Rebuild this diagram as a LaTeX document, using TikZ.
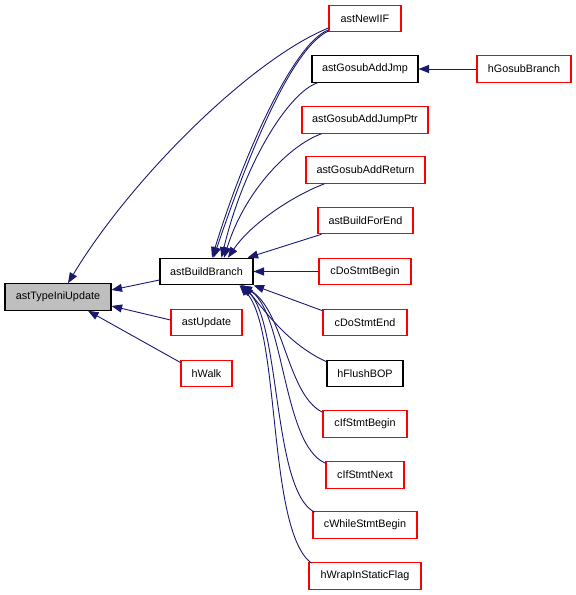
\documentclass[tikz,border=0pt]{standalone}
\usepackage{fontspec}
\setmainfont{Liberation Sans}
\usetikzlibrary{arrows.meta}
\definecolor{edgeblue}{HTML}{191970}
\tikzset{
  fn/.style={draw, rectangle, line width=1.1bp, inner sep=0pt, minimum height=26.5bp,
    font=\fontsize{10.8bp}{12bp}\selectfont},
  fnred/.style={fn, draw=red},
  fnblack/.style={fn, draw=black},
  fncur/.style={fn, draw=black, fill=black!25},
  call/.style={edgeblue, line width=0.9bp, <-, >={Triangle[length=10.5bp,width=8bp]}}
}

\begin{document}
\begin{tikzpicture}[x=1bp, y=-1bp]
\useasboundingbox (0,0) rectangle (576,595);
\node[fncur, minimum width=106bp] (tiu) at (58,297) {astTypeIniUpdate};
\node[fnblack, minimum width=93bp] (bb) at (206.5,271.5) {astBuildBranch};
\node[fnred, minimum width=71bp] (upd) at (206.5,322.5) {astUpdate};
\node[fnred, minimum width=51bp] (walk) at (206.5,373.5) {hWalk};
\node[fnred, minimum width=72bp] (newiif) at (365,18.5) {astNewIIF};
\node[fnblack, minimum width=106bp] (jmp) at (365,69) {astGosubAddJmp};
\node[fnred, minimum width=94bp] (hgb) at (524,69) {hGosubBranch};
\node[fnred, minimum width=126bp] (jptr) at (365,120) {astGosubAddJumpPtr};
\node[fnred, minimum width=119bp] (ret) at (365.5,170) {astGosubAddReturn};
\node[fnred, minimum width=95bp] (forend) at (365.5,220.5) {astBuildForEnd};
\node[fnred, minimum width=92bp] (dobegin) at (365,271.5) {cDoStmtBegin};
\node[fnred, minimum width=84bp] (doend) at (365,322.5) {cDoStmtEnd};
\node[fnblack, minimum width=76bp] (flush) at (365,373.5) {hFlushBOP};
\node[fnred, minimum width=84bp] (ifbegin) at (365,424) {cIfStmtBegin};
\node[fnred, minimum width=78bp] (ifnext) at (365,475) {cIfStmtNext};
\node[fnred, minimum width=104bp] (while) at (365,525) {cWhileStmtBegin};
\node[fnred, minimum width=112bp] (wrap) at (365,576) {hWrapInStaticFlag};

\draw[call] ([yshift=7bp]tiu.east) -- ([yshift=-8.5bp]bb.west);
\draw[call] ([yshift=-9bp]tiu.east) -- ([yshift=2.5bp]upd.west);
\draw[call] ([xshift=30bp]tiu.south) -- ([yshift=11bp]walk.west);
\draw[call] ([xshift=10bp]tiu.north) .. controls (130,180) and (250,60) .. ([yshift=-9.5bp]newiif.west);
\draw[call] ([xshift=5.5bp]bb.north) .. controls (245,150) and (295,42) .. ([yshift=-11.5bp]newiif.west);
\draw[call] ([xshift=7bp]bb.north) .. controls (250,150) and (292,48) .. ([yshift=-12.5bp]newiif.west);
\draw[call] ([xshift=15bp]bb.north) .. controls (245,160) and (290,92) .. ([xshift=6bp]jmp.south west);
\draw[call] ([xshift=17.5bp]bb.north) .. controls (245,190) and (290,145) .. ([xshift=20bp]jptr.south west);
\draw[call] ([xshift=21.5bp]bb.north) .. controls (250,225) and (290,197) .. ([xshift=19bp]ret.south west);
\draw[call] ([xshift=-6bp]bb.north east) -- ([xshift=4bp]forend.south west);
\draw[call] (bb.east) -- (dobegin.west);
\draw[call] (bb.south east) -- ([yshift=-2bp]doend.north west);
\draw[call] ([xshift=-10bp]bb.south east) .. controls (268,315) and (290,345) .. ([yshift=-2bp]flush.north west);
\draw[call] ([xshift=-12bp]bb.south east) .. controls (284,310) and (287,395) .. ([yshift=-2bp]ifbegin.north west);
\draw[call] ([xshift=-13bp]bb.south east) .. controls (285,310) and (282,445) .. ([yshift=-2bp]ifnext.north west);
\draw[call] ([xshift=-13bp]bb.south east) .. controls (281,320) and (272,490) .. ([xshift=2bp,yshift=-1bp]while.north west);
\draw[call] ([xshift=-14bp]bb.south east) .. controls (281,330) and (267,530) .. ([xshift=3bp,yshift=-1bp]wrap.north west);
\draw[call] (jmp.east) -- (hgb.west);
\end{tikzpicture}
\end{document}
